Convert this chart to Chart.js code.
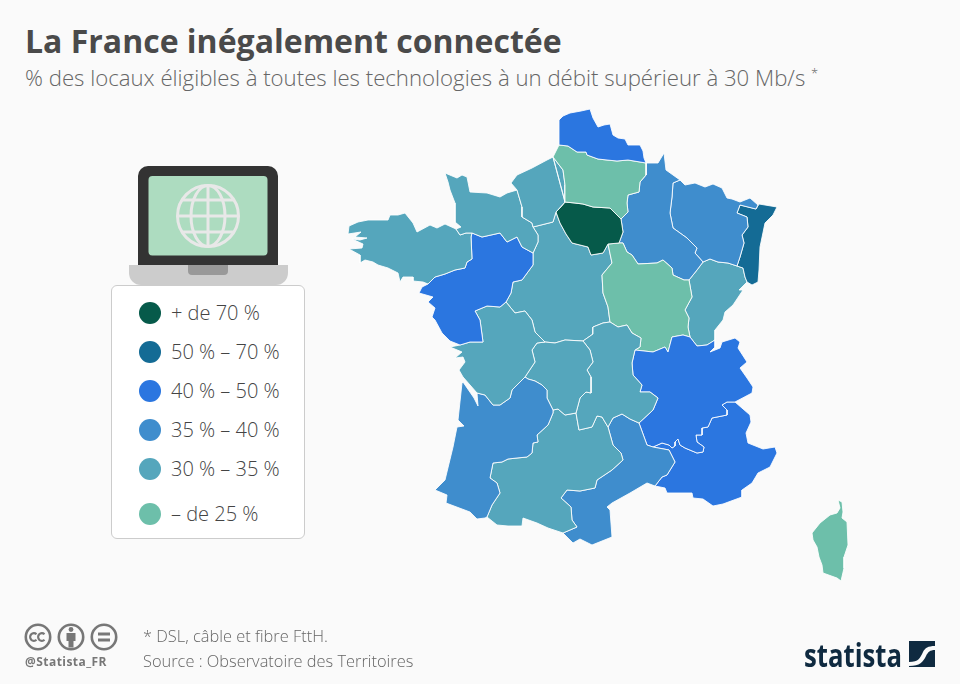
<!DOCTYPE html>
<html lang="fr">
<head>
<meta charset="UTF-8">
<title>La France inégalement connectée</title>
<script src="https://cdn.jsdelivr.net/npm/chart.js@4"></script>
<style>
    html, body { margin: 0; padding: 0; background: #fafafa; }
    body { width: 960px; height: 684px; position: relative; overflow: hidden; font-family: 'Open Sans', sans-serif; color: #666; }
    #map { position: absolute; left: 0; top: 0; }
    .abs { position: absolute; white-space: nowrap; }
    h1 { margin: 0; left: 25px; top: 19px; font-size: 32px; line-height: 44px; font-weight: 700; color: #4a4a4a; }
    .sub { left: 25px; top: 63px; font-size: 22.2px; line-height: 30px; font-weight: 300; color: #666; }
    .legend { left: 111px; top: 285px; width: 192px; height: 252px; background: #fff; border: 1px solid #ccc; border-radius: 6px; }
    .dot { position: absolute; left: 27px; width: 22px; height: 22px; border-radius: 50%; }
    .lab { position: absolute; left: 59px; font-size: 20px; font-weight: 300; line-height: 24px; color: #444; white-space: nowrap; }
    .note { left: 143px; font-size: 16.4px; line-height: 22px; font-weight: 300; color: #666; }
    .handle { left: 25px; top: 654px; font-size: 12px; line-height: 16px; font-weight: 700; color: #777; letter-spacing: .45px; }
    svg { position: absolute; }
</style>
</head>
<body>
<h1 class="abs">La France inégalement connectée</h1>
<div class="abs sub">% des locaux éligibles à toutes les technologies à un débit supérieur à 30 Mb/s <sup style="font-size:13px;line-height:0">*</sup></div>

<svg style="left:120px;top:160px" width="180" height="130" viewBox="120 160 180 130">
    <path d="M138 265V176a10 10 0 0 1 10-10h120a10 10 0 0 1 10 10v89z" fill="#333"/>
    <rect x="148.5" y="176" width="119" height="79.5" rx="4" fill="#addcc0"/>
    <g fill="none" stroke="#e8e8e8" stroke-width="3">
        <circle cx="208" cy="216" r="30.5"/>
        <ellipse cx="208" cy="216" rx="17" ry="30.5"/>
        <path d="M208 185.5v61M177.5 216h61M182 200h52M182 232h52"/>
    </g>
    <path d="M129 265h159v8a12 12 0 0 1-12 12H141a12 12 0 0 1-12-12z" fill="#ccc"/>
    <path d="M188 265h40v6a4 4 0 0 1-4 4h-32a4 4 0 0 1-4-4z" fill="#999"/>
</svg>

<div class="abs legend" id="legend"></div>

<canvas id="map" width="960" height="684"></canvas>

<svg style="left:20px;top:620px" width="100" height="34" viewBox="20 620 100 34">
    <g fill="none" stroke="#777" stroke-width="2.6">
        <circle cx="38" cy="637" r="12.2"/>
        <circle cx="71" cy="637" r="12.2"/>
        <circle cx="104" cy="637" r="12.2"/>
        <path d="M36.5 634.2a3.8 3.8 0 1 0 0 5.6M44.5 634.2a3.8 3.8 0 1 0 0 5.6" stroke-width="2.2"/>
    </g>
    <g fill="#777">
        <circle cx="71" cy="629.5" r="2.4"/>
        <path d="M66.5 633h9v8h-2v6.5h-5v-6.5h-2z"/>
        <rect x="98" y="632.5" width="12" height="3"/>
        <rect x="98" y="638.5" width="12" height="3"/>
    </g>
</svg>
<div class="abs handle">@Statista_FR</div>
<div class="abs note" style="top:625px">* DSL, câble et fibre FttH.</div>
<div class="abs note" style="top:650px">Source : Observatoire des Territoires</div>

<svg style="left:800px;top:635px" width="140" height="40" viewBox="800 635 140 40">
    <text x="804" y="667" font-family="'Open Sans'" font-weight="700" font-size="32" fill="#0f2a40" textLength="98" lengthAdjust="spacingAndGlyphs">statista</text>
    <rect x="909" y="641" width="26" height="26" fill="#0f2a40"/>
    <path d="M909 662c10 0 11-4 14-10 2-4 5-6 12-6v4c-5 0-7 2-9 6-3 6-6 10-17 10z" fill="#fafafa"/>
</svg>

<script>
// legend
const legendLabels = ['+ de 70 %', '50 % – 70 %', '40 % – 50 %', '35 % – 40 %', '30 % – 35 %', '– de 25 %'];
const legendColors = ['#065a4a', '#146b95', '#2b76e0', '#3f8dcd', '#55a6bc', '#6dbfaa'];
const legendRows = [26.5, 65.5, 104.5, 143.5, 182.5, 228];

// border pieces shared between regions
const npcCoast = [[559,145],[559,120],[563,116],[570,113],[581,111],[590,109],[593,118],[598,127],[604,125],[610,124],[613,135],[618,138],[625,139],[628,145],[640,145],[643,151],[644,158],[646,163]];
const npcPic = [[646,163],[640,162],[628,160],[617,161],[607,160],[598,159],[587,155],[586,152],[577,152],[568,146],[559,145]];
const picChamp = [[646,163],[646,175],[640,182],[639,192],[628,195],[627,203],[628,212],[621,219]];
const picIdf = [[621,219],[610,208],[593,207],[583,204],[575,203],[565,202]];
const hnPic = [[565,202],[565,185],[563,170],[553,157]];
const hnCoast = [[553,157],[547,160],[532,168],[517,175],[511,183],[517,190]];
const hnBn = [[517,190],[522,207],[522,217],[532,223],[533,227]];
const hnCentre = [[533,227],[545,224],[553,222],[556,212]];
const hnIdf = [[556,212],[565,202]];
const idfCentre = [[556,212],[560,223],[566,234],[572,243],[588,247],[591,255],[603,253],[608,244]];
const idfBour = [[608,244],[619,243]];
const idfChamp = [[619,243],[623,232],[621,219]];
const bnCoast = [[517,190],[507,193],[500,197],[487,193],[470,192],[467,177],[462,175],[457,178],[445,173],[448,182],[450,190],[455,203],[455,222],[461,227],[456,229]];
const bnBre = [[456,229],[460,235],[466,233],[472,233]];
const bnPdl = [[472,233],[482,237],[500,233],[507,242],[517,237],[522,247],[533,253]];
const bnCentre = [[533,253],[538,242],[538,235],[533,227]];
const breCoast = [[456,229],[445,224],[443,225],[437,228],[430,225],[417,232],[413,223],[405,213],[398,215],[390,215],[388,220],[378,220],[368,220],[358,222],[349,226],[348,234],[361,232],[355,237],[367,238],[360,240],[352,239],[363,244],[362,248],[349,249],[360,255],[360,263],[365,260],[373,262],[378,265],[388,268],[398,273],[400,282],[403,277],[413,277],[413,281],[423,282],[428,284]];
const brePdl = [[428,284],[435,277],[445,274],[455,270],[465,268],[467,262],[472,259],[471,237],[472,233]];
const pdlCoast = [[428,284],[422,287],[419,293],[433,297],[428,302],[435,308],[432,317],[435,320],[442,333],[450,341],[460,345]];
const pdlPoitou = [[460,345],[470,342],[483,342],[480,320],[475,311],[487,306],[500,307],[506,302]];
const pdlCentre = [[506,302],[511,293],[513,282],[522,280],[533,265],[533,253]];
const poiCoast = [[460,345],[450,347],[462,352],[455,358],[463,357],[465,362],[459,370],[463,377],[477,393]];
const poiAqui = [[477,393],[485,395],[493,405],[500,405],[510,398],[512,390],[525,377]];
const poiLim = [[525,377],[535,362],[532,350],[537,343],[545,342]];
const poiCentre = [[545,342],[535,332],[532,320],[525,311],[515,313],[506,302]];
const aquiCoast = [[477,393],[478,406],[474,398],[463,382],[462,383],[458,420],[464,426],[457,427],[453,447],[445,480],[435,490],[447,495],[446,503],[470,512],[477,519],[485,518],[487,517]];
const aquiMp = [[487,517],[492,505],[500,493],[497,483],[490,478],[493,463],[502,462],[508,459],[517,458],[527,457],[532,453],[533,443],[538,442],[537,435],[548,425],[553,413],[553,410]];
const aquiLim = [[553,410],[547,398],[547,390],[542,385],[535,381],[528,379],[525,377]];
const limCentre = [[545,342],[555,343],[565,340],[583,341]];
const limAuv = [[583,341],[590,350],[593,362],[587,370],[591,377],[591,393],[586,392],[580,398],[576,413]];
const limMp = [[576,413],[565,415],[558,409],[553,410]];
const auvCentre = [[583,341],[593,334],[593,327],[603,323],[610,322]];
const auvBour = [[610,322],[618,327],[627,325],[632,333],[641,338],[640,347],[635,350]];
const auvRa = [[635,350],[632,363],[633,375],[642,385],[640,392],[650,392],[658,398],[653,410],[639,423]];
const auvLang = [[639,423],[630,419],[622,414],[613,418],[608,427]];
const auvMp = [[608,427],[602,417],[597,416],[592,427],[579,430],[576,413]];
const mpLang = [[608,427],[613,445],[621,453],[623,460],[612,470],[597,480],[595,488],[580,491],[567,490],[561,498],[571,507],[572,520],[577,527],[563,533]];
const mpSouth = [[563,533],[548,528],[537,523],[523,518],[522,526],[508,526],[497,525],[487,517]];
const langRa = [[639,423],[647,445],[653,447]];
const langPaca = [[653,447],[669,450],[675,462],[667,475],[662,477],[655,486]];
const langCoast = [[655,486],[647,483],[630,493],[612,503],[607,507],[610,510],[612,537],[592,545],[580,539],[573,543],[563,533]];
const raBour = [[635,350],[653,352],[665,347],[668,352],[672,337],[683,335],[690,337]];
const raFc = [[690,337],[697,346],[707,345],[715,340]];
const raEast = [[715,340],[715,347],[710,352],[720,348],[722,342],[735,338],[740,342],[738,348],[747,362],[740,368],[747,378],[753,387],[752,393],[735,402]];
const raPaca = [[735,402],[727,402],[722,405],[727,410],[727,415],[712,418],[708,427],[702,428],[702,435],[696,435],[697,442],[704,447],[703,452],[697,453],[685,448],[680,445],[678,439],[675,442],[675,446],[672,448],[669,445],[662,443],[653,447]];
const pacaCoast = [[735,402],[750,415],[751,422],[746,433],[748,443],[763,449],[775,447],[777,453],[770,467],[758,473],[752,483],[742,490],[742,497],[723,504],[713,506],[703,499],[693,498],[692,493],[673,493],[667,493],[665,488],[655,486]];
const bourChamp = [[619,243],[623,243],[627,252],[632,255],[638,264],[657,263],[663,260],[672,268],[673,275],[684,280],[689,280]];
const bourFc = [[689,280],[692,297],[685,310],[689,318],[688,327],[690,337]];
const bourCentre = [[610,322],[608,307],[603,293],[602,275],[612,263],[608,244]];
const champFc = [[689,280],[697,270],[703,262]];
const lorChamp = [[680,180],[673,183],[672,197],[670,213],[673,228],[687,238],[697,248],[695,253],[703,262]];
const champTop = [[680,180],[666,170],[664,153],[658,163],[646,163]];
const lorTop = [[680,180],[685,185],[695,183],[705,187],[713,184],[722,188],[727,198],[732,199],[740,202],[750,198],[758,205],[756,209]];
const lorAls = [[756,209],[740,205],[737,213],[747,217],[748,227],[742,235],[744,243],[740,257],[737,266]];
const lorFc = [[737,266],[728,263],[718,262],[710,259],[703,262]];
const alsEast = [[756,209],[759,204],[777,207],[773,215],[765,223],[760,247],[759,270],[758,282],[752,285],[747,282]];
const alsFc = [[737,266],[743,268],[745,277],[747,282]];
const fcEast = [[747,282],[739,290],[743,290],[733,305],[725,312],[723,320],[715,330],[715,340]];
const corse = [[838,500],[842,502],[843,512],[842,518],[847,522],[848,545],[844,557],[844,568],[841,581],[837,578],[823,573],[822,565],[819,557],[817,547],[813,540],[812,533],[820,523],[830,515],[837,513],[840,508]];

const rev = a => a.slice().reverse();

const regions = [
    { name: 'Nord-Pas-de-Calais', color: legendColors[2], outline: [npcCoast, npcPic] },
    { name: 'Picardie', color: legendColors[5], outline: [rev(npcPic), picChamp, picIdf, hnPic] },
    { name: 'Haute-Normandie', color: legendColors[4], outline: [hnCoast, hnBn, hnCentre, hnIdf, rev(hnPic)] },
    { name: 'Île-de-France', color: legendColors[0], outline: [hnIdf, idfCentre, idfBour, idfChamp, picIdf] },
    { name: 'Basse-Normandie', color: legendColors[4], outline: [bnCoast, bnBre, bnPdl, bnCentre, rev(hnBn)] },
    { name: 'Bretagne', color: legendColors[4], outline: [breCoast, brePdl, rev(bnBre)] },
    { name: 'Pays de la Loire', color: legendColors[2], outline: [pdlCoast, pdlPoitou, pdlCentre, rev(bnPdl), rev(brePdl)] },
    { name: 'Poitou-Charentes', color: legendColors[4], outline: [rev(pdlPoitou), poiCoast, poiAqui, poiLim, poiCentre] },
    { name: 'Aquitaine', color: legendColors[3], outline: [aquiCoast, aquiMp, aquiLim, rev(poiAqui)] },
    { name: 'Limousin', color: legendColors[4], outline: [poiLim, limCentre, limAuv, limMp, aquiLim] },
    { name: 'Auvergne', color: legendColors[4], outline: [auvCentre, auvBour, auvRa, auvLang, auvMp, rev(limAuv)] },
    { name: 'Midi-Pyrénées', color: legendColors[4], outline: [rev(limMp), rev(auvMp), mpLang, mpSouth, aquiMp] },
    { name: 'Languedoc-Roussillon', color: legendColors[3], outline: [rev(mpLang), rev(auvLang), langRa, langPaca, langCoast] },
    { name: 'Rhône-Alpes', color: legendColors[2], outline: [rev(auvRa), raBour, raFc, raEast, raPaca, rev(langRa)] },
    { name: 'PACA', color: legendColors[2], outline: [rev(raPaca), pacaCoast, rev(langPaca)] },
    { name: 'Bourgogne', color: legendColors[5], outline: [idfBour, bourChamp, bourFc, rev(raBour), rev(auvBour), bourCentre] },
    { name: 'Champagne-Ardenne', color: legendColors[3], outline: [picChamp, rev(idfChamp), bourChamp, champFc, rev(lorChamp), champTop] },
    { name: 'Lorraine', color: legendColors[3], outline: [lorTop, lorAls, lorFc, rev(lorChamp)] },
    { name: 'Alsace', color: legendColors[1], outline: [alsEast, rev(alsFc), rev(lorAls)] },
    { name: 'Franche-Comté', color: legendColors[4], outline: [rev(lorFc), alsFc, fcEast, rev(raFc), rev(bourFc), champFc] },
    { name: 'Centre', color: legendColors[4], outline: [hnCentre, idfCentre, rev(bourCentre), rev(auvCentre), rev(limCentre), poiCentre, pdlCentre, bnCentre] },
    { name: 'Corse', color: legendColors[5], outline: [corse] }
];

// legend rows
const legendBox = document.getElementById('legend');
legendLabels.forEach((label, i) => {
    const dot = document.createElement('div');
    dot.className = 'dot';
    dot.style.top = (legendRows[i] - 11) + 'px';
    dot.style.background = legendColors[i];
    legendBox.appendChild(dot);
    const text = document.createElement('div');
    text.className = 'lab';
    text.style.top = (legendRows[i] - 12) + 'px';
    text.textContent = label;
    legendBox.appendChild(text);
});

// each region is one closed line dataset on pixel-sized axes
new Chart(document.getElementById('map').getContext('2d'), {
    type: 'scatter',
    data: {
        datasets: regions.map(r => {
            const pts = [];
            r.outline.forEach(piece => piece.forEach(p => pts.push({ x: p[0], y: p[1] })));
            pts.push({ x: pts[0].x, y: pts[0].y });
            return {
                label: r.name,
                data: pts,
                showLine: true,
                fill: 'shape',
                tension: 0,
                backgroundColor: r.color,
                borderColor: 'rgba(255,255,255,0.85)',
                borderWidth: 1,
                borderJoinStyle: 'round',
                pointRadius: 0,
                pointHoverRadius: 0
            };
        })
    },
    options: {
        responsive: false,
        animation: false,
        events: [],
        layout: { padding: 0 },
        plugins: { legend: { display: false }, tooltip: { enabled: false } },
        scales: {
            x: { type: 'linear', min: 0, max: 960, display: false },
            y: { type: 'linear', min: 0, max: 684, reverse: true, display: false }
        }
    }
});
</script>
</body>
</html>
